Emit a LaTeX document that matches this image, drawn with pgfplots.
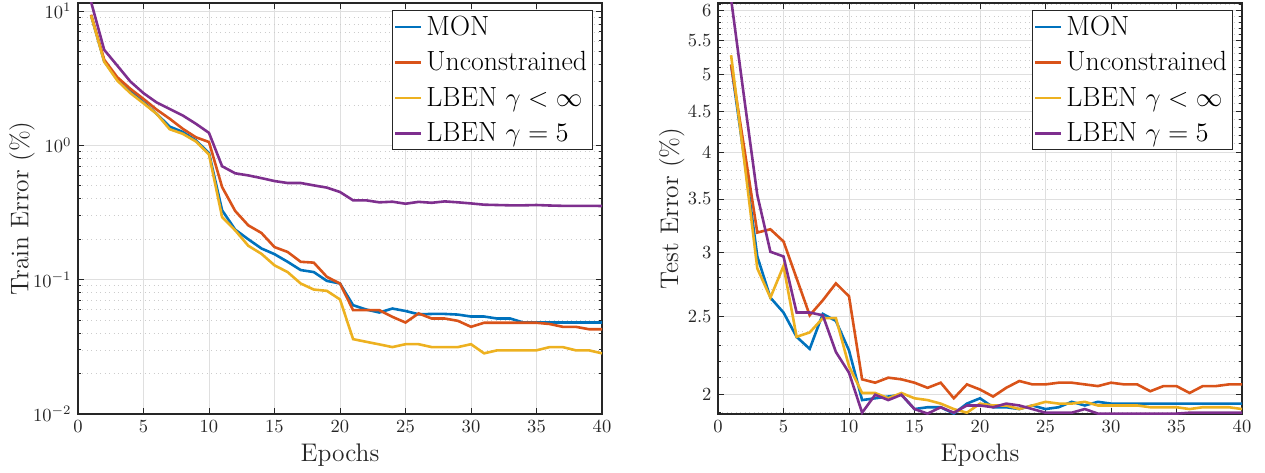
\documentclass[border=0pt]{standalone}
\usepackage{pgfplots}
\usepackage{pgfplotstable}
\pgfplotsset{compat=1.18}

\definecolor{mblue}{rgb}{0,0.447,0.741}
\definecolor{morange}{rgb}{0.850,0.325,0.098}
\definecolor{myellow}{rgb}{0.929,0.694,0.125}
\definecolor{mpurple}{rgb}{0.494,0.184,0.556}
\definecolor{axgray}{rgb}{0.15,0.15,0.15}

% train error (%), columns: epoch, MON, unconstrained, LBEN gamma<inf, LBEN gamma=5
\pgfplotstableread{
x  mon     unc     lben    lbenf
1  9.3     9.4     9.3     11.7
2  4.23    4.35    4.2     5.15
3  3.13    3.22    3.04    3.93
4  2.53    2.64    2.45    2.99
5  2.10    2.22    2.06    2.45
6  1.72    1.85    1.72    2.09
7  1.38    1.58    1.32    1.87
8  1.26    1.33    1.22    1.67
9  1.09    1.15    1.07    1.45
10 0.877   1.06    0.857   1.24
11 0.329   0.49    0.293   0.70
12 0.236   0.325   0.233   0.62
13 0.200   0.254   0.179   0.598
14 0.171   0.223   0.156   0.571
15 0.155   0.175   0.128   0.543
16 0.136   0.161   0.114   0.525
17 0.118   0.136   0.0937  0.525
18 0.114   0.134   0.0845  0.504
19 0.098   0.105   0.0826  0.485
20 0.0937  0.0937  0.0713  0.45
21 0.0646  0.0593  0.0361  0.39
22 0.060   0.0593  0.0345  0.39
23 0.057   0.0593  0.033   0.377
24 0.061   0.0529  0.0315  0.381
25 0.0585  0.048   0.0331  0.368
26 0.0553  0.0561  0.0331  0.38
27 0.0556  0.0514  0.0315  0.374
28 0.0556  0.0514  0.0315  0.383
29 0.055   0.0494  0.0315  0.377
30 0.0532  0.0446  0.0331  0.37
31 0.0532  0.0478  0.0283  0.362
32 0.0514  0.0478  0.0298  0.36
33 0.0514  0.0478  0.0298  0.358
34 0.048   0.0478  0.0298  0.358
35 0.048   0.0478  0.0298  0.36
36 0.048   0.0468  0.0315  0.357
37 0.048   0.0446  0.0315  0.355
38 0.048   0.0446  0.0298  0.355
39 0.048   0.0428  0.0298  0.355
40 0.048   0.0428  0.0283  0.354
}\traintab

% test error (%)
\pgfplotstableread{
x  mon    unc    lben   lbenf
1  5.14   5.14   5.28   6.2
2  3.94   4.05   3.91   4.67
3  2.97   3.18   2.87   3.54
4  2.64   3.21   2.64   3.01
5  2.53   3.10   2.89   2.97
6  2.36   2.79   2.36   2.53
7  2.28   2.51   2.39   2.53
8  2.52   2.62   2.49   2.51
9  2.47   2.75   2.49   2.26
10 2.27   2.65   2.17   2.13
11 1.97   2.09   2.01   1.90
12 1.98   2.07   2.01   2.00
13 1.99   2.10   1.98   1.97
14 2.00   2.09   2.01   2.00
15 1.92   2.07   1.98   1.92
16 1.93   2.04   1.97   1.895
17 1.93   2.07   1.95   1.93
18 1.895  1.98   1.92   1.90
19 1.95   2.06   1.90   1.94
20 1.98   2.03   1.95   1.94
21 1.93   1.99   1.94   1.93
22 1.93   2.04   1.94   1.95
23 1.92   2.08   1.92   1.94
24 1.94   2.06   1.94   1.92
25 1.92   2.06   1.96   1.90
26 1.93   2.07   1.95   1.90
27 1.96   2.07   1.95   1.90
28 1.94   2.06   1.96   1.92
29 1.96   2.05   1.94   1.895
30 1.95   2.07   1.94   1.895
31 1.95   2.06   1.94   1.895
32 1.95   2.06   1.94   1.895
33 1.95   2.02   1.93   1.895
34 1.95   2.05   1.93   1.895
35 1.95   2.05   1.93   1.895
36 1.95   2.01   1.92   1.90
37 1.95   2.05   1.93   1.90
38 1.95   2.05   1.93   1.90
39 1.95   2.06   1.93   1.90
40 1.95   2.06   1.92   1.90
}\testtab

\pgfplotsset{
  errax/.style={
    scale only axis,
    width=282.96pt, height=221.94pt,
    xmin=0, xmax=40,
    xtick={0,5,...,40},
    axis line style={axgray, line width=0.6pt},
    every tick/.style={axgray, line width=0.5pt},
    major tick length=3pt,
    minor tick length=1.8pt,
    ticklabel style={text=axgray},
    grid=both,
    major grid style={gray!25, line width=0.5pt},
    minor grid style={gray!40, dotted, line width=0.4pt},
    minor x tick num=0,
    xlabel={Epochs},
    label style={font=\fontsize{13.75}{15}\selectfont, text=axgray},
    xlabel style={at={(axis description cs:0.5,-0.1)}, anchor=center},
    legend cell align=left,
    legend image code/.code={\draw[#1, line width=1.4pt] (0pt,0pt) -- (14pt,0pt);},
    legend style={
      at={(axis description cs:0.983,0.983)}, anchor=north east,
      font=\fontsize{15}{17}\selectfont,
      draw=axgray, line width=0.5pt,
      inner xsep=1pt, inner ysep=1pt,
      row sep=3.3pt,
    },
    every axis plot/.append style={line width=1.4pt},
  }
}

\begin{document}
\begin{tikzpicture}
\useasboundingbox (-42.12pt,-31.32pt) rectangle (640.98pt,223.56pt);

\begin{axis}[ymode=log, errax,
  ymin=0.01, ymax=11.5,
  ytick={0.01,0.1,1,10},
  ylabel={Train Error (\%)},
  ylabel style={at={(axis description cs:-0.107,0.5)}, anchor=center},
]
  \addplot[mblue] table[x=x, y=mon] {\traintab};
  \addlegendentry{MON}
  \addplot[morange] table[x=x, y=unc] {\traintab};
  \addlegendentry{Unconstrained}
  \addplot[myellow] table[x=x, y=lben] {\traintab};
  \addlegendentry{LBEN $\gamma < \infty$}
  \addplot[mpurple] table[x=x, y=lbenf] {\traintab};
  \addlegendentry{LBEN $\gamma = 5$}
\end{axis}

\begin{axis}[ymode=log, errax, xshift=345.6pt,
  ymin=1.893, ymax=6.13,
  ytick={2,2.5,3,3.5,4,4.5,5,5.5,6},
  yticklabels={2,2.5,3,3.5,4,4.5,5,5.5,6},
  minor ytick={1.9,2.1,2.2,2.3,2.4,2.6,2.7,2.8,2.9,3.1,3.2,3.3,3.4,3.6,3.7,3.8,3.9,4.1,4.2,4.3,4.4,4.6,4.7,4.8,4.9,5.1,5.2,5.3,5.4,5.6,5.7,5.8,5.9,6.1},
  ylabel={Test Error (\%)},
  ylabel style={at={(axis description cs:-0.088,0.5)}, anchor=center},
]
  \addplot[mblue] table[x=x, y=mon] {\testtab};
  \addlegendentry{MON}
  \addplot[morange] table[x=x, y=unc] {\testtab};
  \addlegendentry{Unconstrained}
  \addplot[myellow] table[x=x, y=lben] {\testtab};
  \addlegendentry{LBEN $\gamma < \infty$}
  \addplot[mpurple] table[x=x, y=lbenf] {\testtab};
  \addlegendentry{LBEN $\gamma = 5$}
\end{axis}
\end{tikzpicture}
\end{document}
